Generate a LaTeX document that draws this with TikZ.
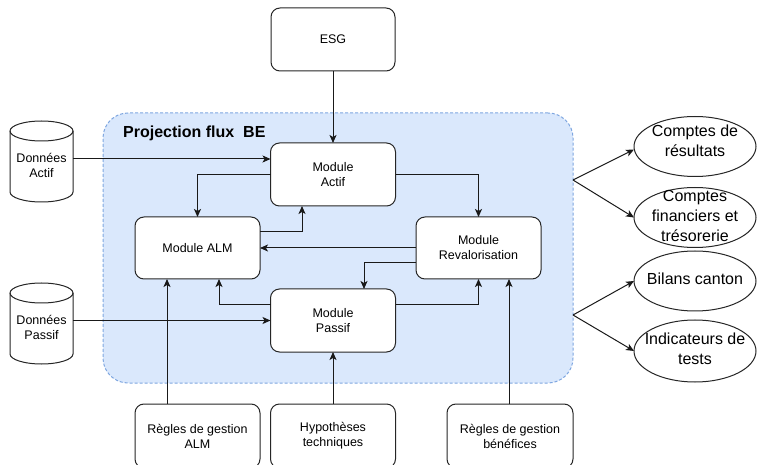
\documentclass[tikz,border=0pt]{standalone}
\usepackage{fontspec}
\setmainfont{Liberation Sans}
\usetikzlibrary{arrows.meta,shapes.geometric,calc}
\definecolor{contfill}{HTML}{DAE8FC}
\definecolor{contdraw}{HTML}{7EA6E0}
\tikzset{
  modbox/.style={draw=black!85, line width=1pt, fill=white, rounded corners=9pt,
    minimum width=125pt, minimum height=63pt, inner sep=0pt, outer sep=0pt,
    align=center, font=\fontsize{12.5}{15}\selectfont},
  ellbox/.style={draw=black!85, line width=1pt, fill=white, ellipse,
    minimum width=122pt, minimum height=60pt, inner sep=0pt, outer sep=0pt},
  elltext/.style={align=center, font=\fontsize{16}{20}\selectfont, inner sep=0pt},
  smalltext/.style={align=center, font=\fontsize{12.5}{15}\selectfont, inner sep=0pt},
  conn/.style={line width=1pt, draw=black!90, -{Stealth[length=8pt,width=7pt,inset=2pt]}},
  plain/.style={line width=1pt, draw=black!90}
}
\newcommand\mycyl[3]{%
  \node[minimum width=63pt, minimum height=81pt, inner sep=0pt, outer sep=0pt] (#1) at (#2) {};
  \draw[line width=1pt, draw=black!85, fill=white]
    ($(#1.north west)+(0,-10)$) -- ($(#1.south west)+(0,10)$)
    arc[start angle=180, end angle=360, x radius=31.5, y radius=10]
    -- ($(#1.north east)+(0,-10)$)
    arc[start angle=0, end angle=180, x radius=31.5, y radius=10] -- cycle;
  \draw[line width=1pt, draw=black!85] ($(#1.north west)+(0,-10)$)
    arc[start angle=180, end angle=360, x radius=31.5, y radius=10];
  \node[smalltext] at ([yshift=-4pt]#1.center) {#3};
}
\begin{document}
\begin{tikzpicture}[x=1pt, y=1pt]
\useasboundingbox (0,0) rectangle (758,464);
\clip (0,0) rectangle (758,464);

% container
\node[draw=contdraw, fill=contfill, line width=1pt, dash pattern=on 3pt off 2pt,
  rounded corners=25pt, minimum width=470pt, minimum height=270pt, inner sep=0pt, outer sep=0pt]
  (proj) at (338,216) {};
\node[anchor=base west, inner sep=0pt, font=\fontsize{16}{19}\selectfont\bfseries]
  (title) at (123,326) {Projection flux\ \ BE};

% top / modules
\node[modbox, minimum width=124pt] (esg) at (333,424.5) {ESG};
\node[modbox] (actif) at (333,289.5) {Module\\Actif};
\node[modbox, minimum height=62pt] (alm) at (197.5,216) {Module ALM};
\node[modbox, minimum height=62pt] (reval) at (478.5,216) {Module\\Revalorisation};
\node[modbox] (passif) at (333,143.5) {Module\\Passif};

% bottom boxes
\node[modbox, minimum height=64pt] (ralm) at (197.5,28) {Règles de gestion\\ALM};
\node[modbox, minimum height=64pt] (hyp) at (333,28) {Hypothèses\\techniques};
\node[modbox, minimum height=64pt, minimum width=126pt] (rben) at (510,28) {Règles de gestion\\bénéfices};

% cylinders
\mycyl{dact}{41.5,302.5}{Données\\Actif}
\mycyl{dpas}{41.5,140.5}{Données\\Passif}

% ellipses
\node[ellbox] (cr) at (695,317.5) {};
\node[elltext] at ([yshift=6pt]cr.center) {Comptes de\\résultats};
\node[ellbox] (cf) at (695,246.5) {};
\node[elltext] at ([yshift=2pt]cf.center) {Comptes\\financiers et\\trésorerie};
\node[ellbox] (bc) at (695,183) {};
\node[elltext] at ([yshift=2pt]bc.center) {Bilans canton};
\node[ellbox, minimum height=62pt] (it) at (695,113) {};
\node[elltext] at ([yshift=2pt]it.center) {Indicateurs de\\tests};

% connectors
\draw[conn] (esg) -- (actif);
\coordinate (aIn) at ([yshift=15.5pt]actif.west);
\draw[conn] (dact.east |- aIn) -- (aIn);
\draw[conn] (dpas.east |- passif.west) -- (passif.west);

\draw[conn] (actif.west) -| (alm.north);
\draw[conn] ([yshift=16pt]alm.east) -| ([xshift=-31pt]actif.south);
\draw[conn] (actif.east) -| (reval.north);
\draw[conn] (reval.west) -- (alm.east);
\draw[conn] ([yshift=-15pt]reval.west) -| ([xshift=31pt]passif.north);
\draw[conn] ([yshift=15.5pt]passif.west) -| ([xshift=21.5pt]alm.south);
\draw[conn] ([yshift=15.5pt]passif.east) -| (reval.south);

\draw[conn] ([xshift=-30.5pt]ralm.north) -- ([xshift=-30.5pt]alm.south);
\draw[conn] (hyp) -- (passif);
\coordinate (rIn) at ([xshift=30.5pt]reval.south);
\draw[conn] (rben.north -| rIn) -- (rIn);

% outputs
\coordinate (j1) at ([yshift=68pt]proj.east);
\coordinate (j2) at ([yshift=-67pt]proj.east);
\draw[conn] (j1) -- ([yshift=-3pt]cr.west);
\draw[conn] (j1) -- (cf.west);
\draw[conn] (j2) -- (bc.west);
\draw[conn] (j2) -- (it.west);
\end{tikzpicture}
\end{document}
